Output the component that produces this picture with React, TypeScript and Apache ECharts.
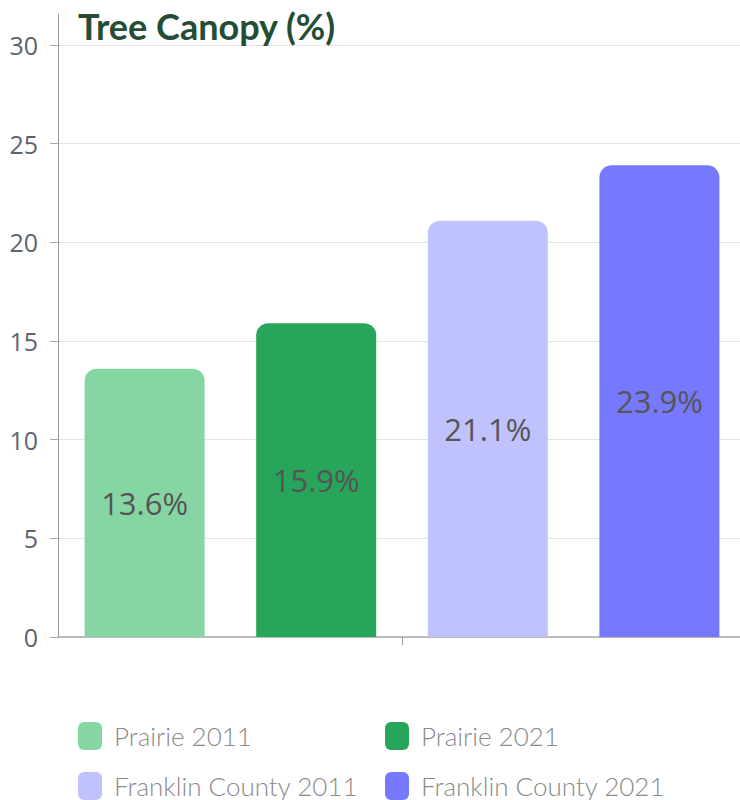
import React, { useEffect, useRef } from "react";
import * as echarts from "echarts";

const seriesNames = ["Prairie 2011", "Prairie 2021", "Franklin County 2011", "Franklin County 2021"];
const seriesValues = [13.6, 15.9, 21.1, 23.9];
const seriesColors = ["#86d6a4", "#27a55b", "#c0c2fe", "#7679fe"];
const categories = [""];

const legendBase = {
  orient: "vertical",
  top: 717,
  height: 140,
  itemWidth: 24,
  itemHeight: 28,
  itemGap: 22,
  icon: "roundRect",
  textStyle: { fontFamily: "Lato", fontSize: 26, color: "#8a8a8a", fontWeight: 300, padding: [0, 0, 0, 7] },
};

export default function App() {
  const ref = useRef<HTMLDivElement>(null);
  useEffect(() => {
    if (!ref.current) return;
    const chart = echarts.init(ref.current, null, { renderer: "svg" });
    chart.setOption({
      animation: false,
      title: {
        text: "Tree Canopy (%)",
        left: 73,
        top: 3,
        textStyle: { fontFamily: "Lato", fontWeight: "bold", fontSize: 36, color: "#244d35" },
      },
      grid: { left: 58, right: 14, top: 45, height: 592 },
      legend: [
        { ...legendBase, data: [seriesNames[0], seriesNames[2]], left: 73 },
        { ...legendBase, data: [seriesNames[1], seriesNames[3]], left: 380 },
      ],
      xAxis: {
        type: "category",
        data: categories,
        axisLine: { lineStyle: { color: "#aaaaaa", width: 1.5 } },
        axisTick: { show: true, alignWithLabel: true, length: 8, lineStyle: { color: "#999999" } },
        axisLabel: { show: false },
      },
      yAxis: {
        type: "value",
        min: 0,
        max: 30,
        interval: 5,
        axisLine: { show: true, lineStyle: { color: "#999999", width: 1 } },
        axisTick: { show: true, length: 8, lineStyle: { color: "#aaaaaa" } },
        axisLabel: { fontFamily: "Open Sans", fontSize: 25, color: "#5c6470", margin: 20 },
        splitLine: { lineStyle: { color: "#e4e4e4" } },
      },
      graphic: [
        {
          type: "line",
          shape: { x1: 58.5, y1: 14, x2: 58.5, y2: 45 },
          style: { stroke: "#999999", lineWidth: 1 },
        },
      ],
      series: seriesNames.map((name, i) => ({
        name,
        type: "bar",
        barWidth: 120,
        barGap: "43%",
        data: [seriesValues[i]],
        itemStyle: { color: seriesColors[i], borderRadius: [12, 12, 0, 0] },
        label: {
          show: true,
          position: "inside",
          formatter: "{c}%",
          fontFamily: "Open Sans",
          fontSize: 31,
          color: "#555555",
        },
      })),
    });
    return () => chart.dispose();
  }, []);
  return (
    <div style={{ position: "fixed", left: 0, top: 0, width: 740, height: 800, overflow: "hidden", background: "#fff" }}>
      <div ref={ref} style={{ width: 760, height: 800 }} />
    </div>
  );
}
